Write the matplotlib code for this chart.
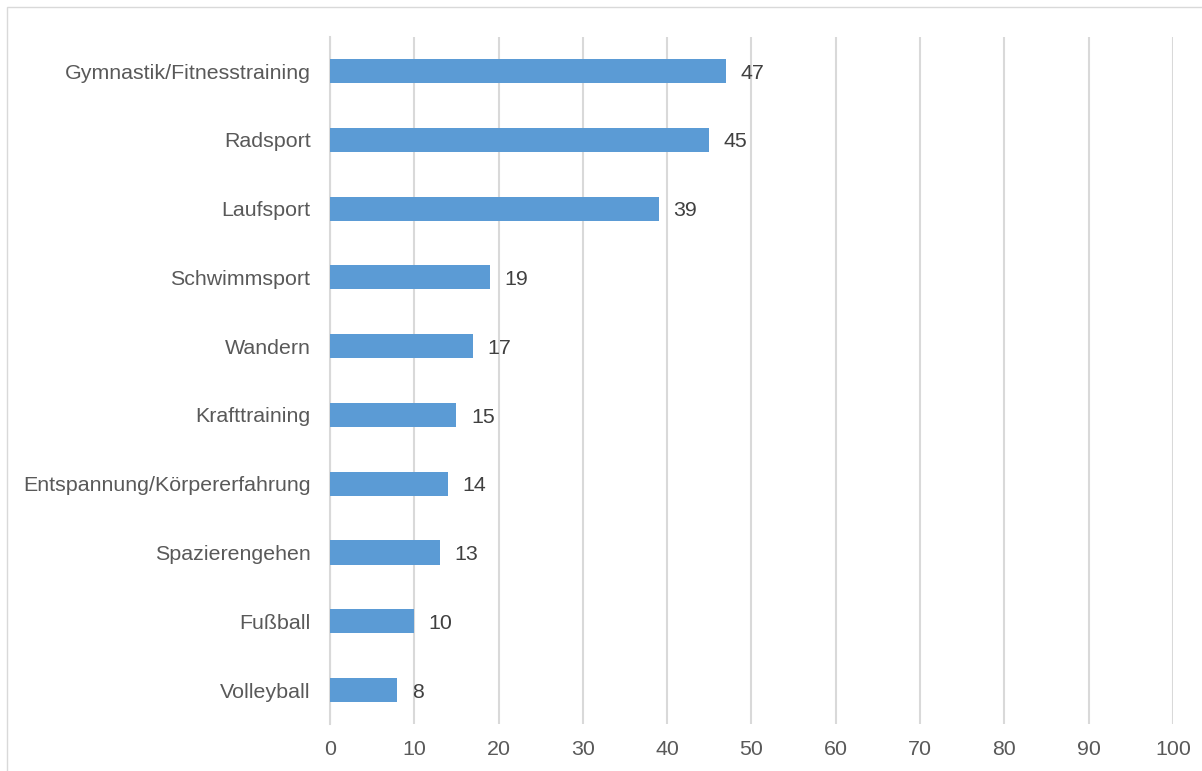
import matplotlib.pyplot as plt
from matplotlib.patches import Rectangle

# ==========================================
# Data
# ==========================================

categories = [
    "Gymnastik/Fitnesstraining",
    "Radsport",
    "Laufsport",
    "Schwimmsport",
    "Wandern",
    "Krafttraining",
    "Entspannung/Körpererfahrung",
    "Spazierengehen",
    "Fußball",
    "Volleyball",
]

values = [47, 45, 39, 19, 17, 15, 14, 13, 10, 8]

x_ticks = [0, 10, 20, 30, 40, 50, 60, 70, 80, 90, 100]

# ==========================================
# Style
# ==========================================

plt.rcParams['font.family'] = ['Liberation Sans', 'DejaVu Sans']

text_color = '#595959'
grid_color = '#D9D9D9'
bar_color = '#5B9BD5'

# ==========================================
# Figure
# ==========================================

fig = plt.figure(figsize=(12.02, 7.71), dpi=100)
ax = fig.add_axes([0.2745, 0.0604, 0.7014, 0.8921])

# outer chart border (cropped at right and bottom)
fig.patches.append(
    Rectangle(
        (7 / 1202, -0.1),
        1.2,
        1 - 7 / 771 + 0.1,
        transform=fig.transFigure,
        fill=False,
        edgecolor=grid_color,
        linewidth=1.0
    )
)

pos = list(range(len(categories)))

bars = ax.barh(
    pos,
    values,
    height=0.35,
    color=bar_color,
    zorder=3
)

for p, v in zip(pos, values):
    ax.annotate(
        str(v),
        (v, p),
        xytext=(10.5, -1.5),
        textcoords='offset points',
        ha='left',
        va='center',
        fontsize=15.4,
        color='#404040'
    )

ax.set_xlim(0, 100)
ax.set_ylim(len(categories) - 0.5, -0.5)

ax.set_xticks(x_ticks)
ax.set_yticks(pos)
ax.set_yticklabels(categories)

ax.tick_params(axis='both', length=0, labelsize=15.4, colors=text_color)
ax.tick_params(axis='y', pad=14)
ax.tick_params(axis='x', pad=11)

ax.grid(axis='x', color=grid_color, linewidth=1.5, zorder=0)

for side in ['top', 'right', 'bottom']:
    ax.spines[side].set_visible(False)

ax.spines['left'].set_color(grid_color)
ax.spines['left'].set_linewidth(1.5)
ax.spines['left'].set_zorder(1)

fig.savefig('out.png', dpi=100)
